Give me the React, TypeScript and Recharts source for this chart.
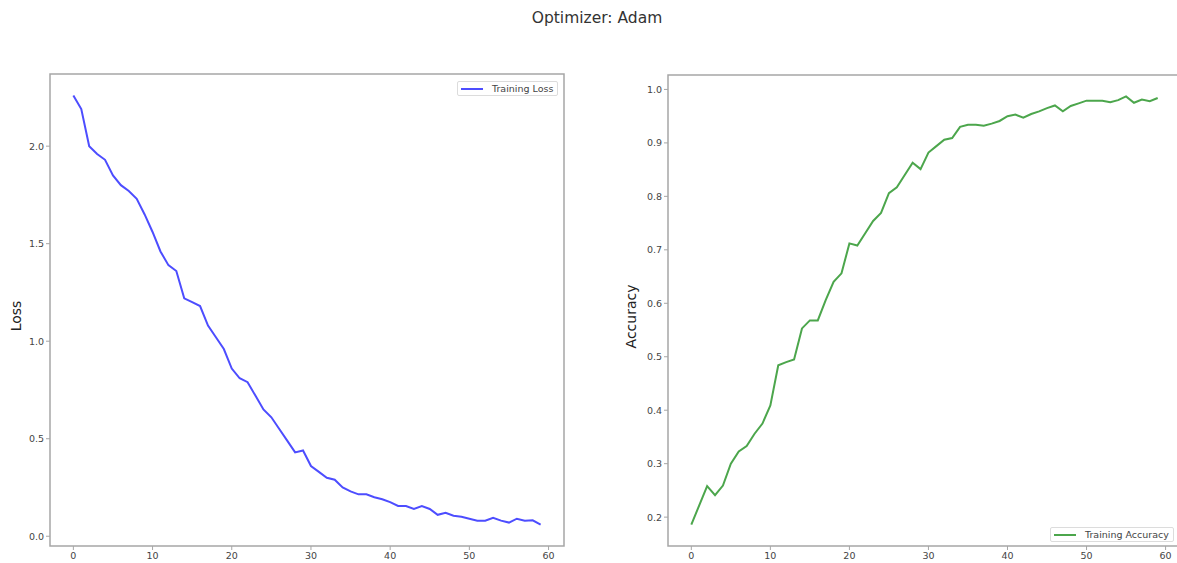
import React from "react";
import {
  LineChart,
  Line,
  XAxis,
  YAxis,
  ReferenceArea,
  Legend,
} from "recharts";

const epochs = Array.from({ length: 60 }, (_, i) => i);

const trainingLoss = [
  2.26, 2.19, 2.0, 1.96, 1.93, 1.85, 1.8, 1.77, 1.73, 1.65,
  1.56, 1.46, 1.39, 1.36, 1.22, 1.2, 1.18, 1.08, 1.02, 0.96,
  0.86, 0.81, 0.79, 0.72, 0.65, 0.61, 0.55, 0.49, 0.43, 0.44,
  0.36, 0.33, 0.3, 0.29, 0.25, 0.23, 0.215, 0.215, 0.2, 0.19,
  0.175, 0.155, 0.155, 0.14, 0.155, 0.14, 0.11, 0.12, 0.105, 0.1,
  0.09, 0.08, 0.08, 0.095, 0.08, 0.07, 0.09, 0.08, 0.082, 0.06,
];

const trainingAccuracy = [
  0.186, 0.222, 0.258, 0.241, 0.259, 0.3, 0.323, 0.333, 0.356, 0.375,
  0.409, 0.484, 0.49, 0.495, 0.553, 0.568, 0.568, 0.606, 0.64, 0.656,
  0.712, 0.708, 0.731, 0.754, 0.769, 0.806, 0.817, 0.84, 0.863, 0.851,
  0.882, 0.894, 0.906, 0.909, 0.93, 0.934, 0.934, 0.932, 0.936, 0.941,
  0.95, 0.953, 0.947, 0.954, 0.959, 0.965, 0.97, 0.959, 0.969, 0.974,
  0.979, 0.979, 0.979, 0.976, 0.98, 0.987, 0.975, 0.981, 0.978, 0.984,
];

const xTicks = [0, 10, 20, 30, 40, 50, 60];
const lossTicks = [0, 0.5, 1.0, 1.5, 2.0];
const accTicks = [0.2, 0.3, 0.4, 0.5, 0.6, 0.7, 0.8, 0.9, 1.0];

const xDomain: [number, number] = [-2.95, 61.95];
const lossDomain: [number, number] = [-0.05, 2.37];
const accDomain: [number, number] = [0.146, 1.027];

const FONT = "'DejaVu Sans', sans-serif";
const SPINE = "#a6a6a6";
const TEXT = "#444";

const lossData = epochs.map((e, i) => ({ epoch: e, loss: trainingLoss[i] }));
const accData = epochs.map((e, i) => ({ epoch: e, acc: trainingAccuracy[i] }));

const tickStyle = { fontSize: 9.5, fill: TEXT, fontFamily: FONT };

function LegendBox({ label, color }: { label: string; color: string }) {
  return (
    <div
      style={{
        display: "flex",
        alignItems: "center",
        border: "1px solid #dcdcdc",
        borderRadius: 2,
        background: "#fff",
        padding: "1px 4px 1px 3px",
        fontFamily: FONT,
        fontSize: 9.5,
        color: TEXT,
        whiteSpace: "nowrap",
        lineHeight: "11px",
      }}
    >
      <span
        style={{
          display: "inline-block",
          width: 22,
          height: 2,
          background: color,
          marginRight: 9,
        }}
      />
      {label}
    </div>
  );
}

export default function App() {
  return (
    <div
      style={{
        position: "absolute",
        left: 0,
        top: 0,
        width: 1177,
        height: 563,
        overflow: "hidden",
        background: "#fff",
      }}
    >
      <div
        style={{
          position: "absolute",
          top: 9,
          left: 0,
          width: 1194,
          textAlign: "center",
          fontFamily: FONT,
          fontSize: 15.5,
          color: "#333",
        }}
      >
        Optimizer: Adam
      </div>

      <div style={{ position: "absolute", left: 0, top: 0 }}>
        <LineChart
          width={600}
          height={563}
          data={lossData}
          margin={{ top: 74, right: 36, bottom: 0, left: 0 }}
        >
          <XAxis
            dataKey="epoch"
            type="number"
            domain={xDomain}
            ticks={xTicks}
            allowDataOverflow
            axisLine={false}
            tickSize={4}
            tickLine={{ stroke: SPINE }}
            tick={tickStyle}
            height={17}
            interval={0}
          />
          <YAxis
            type="number"
            domain={lossDomain}
            ticks={lossTicks}
            allowDataOverflow
            axisLine={false}
            tickSize={4}
            tickLine={{ stroke: SPINE }}
            tick={tickStyle}
            width={50}
            interval={0}
            tickFormatter={(v: number) => v.toFixed(1)}
            label={{
              value: "Loss",
              angle: -90,
              position: "center",
              dx: -9,
              dy: 6,
              style: { fontSize: 14, fill: "#222", fontFamily: FONT },
            }}
          />
          <ReferenceArea
            x1={xDomain[0]}
            x2={xDomain[1]}
            y1={lossDomain[0]}
            y2={lossDomain[1]}
            fill="none"
            stroke={SPINE}
            strokeWidth={1.5}
            ifOverflow="visible"
          />
          <Legend
            layout="horizontal"
            verticalAlign="middle"
            align="center"
            wrapperStyle={{ position: "absolute", left: 457, top: 81, width: "auto", height: "auto" }}
            content={() => <LegendBox label="Training Loss" color="#4d4dff" />}
          />
          <Line
            type="linear"
            dataKey="loss"
            stroke="#4d4dff"
            strokeWidth={2}
            dot={false}
            isAnimationActive={false}
          />
        </LineChart>
      </div>

      <div style={{ position: "absolute", left: 600, top: 0 }}>
        <LineChart
          width={600}
          height={563}
          data={accData}
          margin={{ top: 75, right: 19, bottom: 0, left: 0 }}
        >
          <XAxis
            dataKey="epoch"
            type="number"
            domain={xDomain}
            ticks={xTicks}
            allowDataOverflow
            axisLine={false}
            tickSize={4}
            tickLine={{ stroke: SPINE }}
            tick={tickStyle}
            height={17}
            interval={0}
          />
          <YAxis
            type="number"
            domain={accDomain}
            ticks={accTicks}
            allowDataOverflow
            axisLine={false}
            tickSize={4}
            tickLine={{ stroke: SPINE }}
            tick={tickStyle}
            width={68}
            interval={0}
            tickFormatter={(v: number) => v.toFixed(1)}
            label={{
              value: "Accuracy",
              angle: -90,
              position: "center",
              dx: -3,
              dy: 6,
              style: { fontSize: 14, fill: "#222", fontFamily: FONT },
            }}
          />
          <ReferenceArea
            x1={xDomain[0]}
            x2={xDomain[1]}
            y1={accDomain[0]}
            y2={accDomain[1]}
            fill="none"
            stroke={SPINE}
            strokeWidth={1.5}
            ifOverflow="visible"
          />
          <Legend
            layout="horizontal"
            verticalAlign="middle"
            align="center"
            wrapperStyle={{ position: "absolute", left: 450, top: 527, width: "auto", height: "auto" }}
            content={() => <LegendBox label="Training Accuracy" color="#4ca64c" />}
          />
          <Line
            type="linear"
            dataKey="acc"
            stroke="#4ca64c"
            strokeWidth={2}
            dot={false}
            isAnimationActive={false}
          />
        </LineChart>
      </div>
    </div>
  );
}
